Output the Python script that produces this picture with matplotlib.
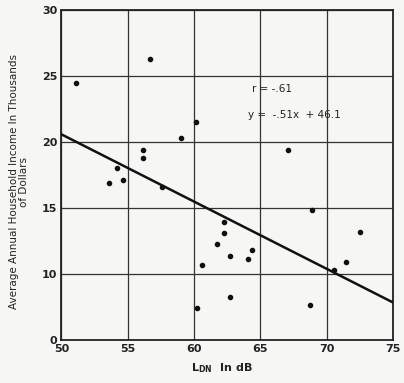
import numpy as np
from matplotlib import pyplot as plt

# noise level (LDN, dB) vs. average household income (thousands of dollars)
ldn = [51.1, 56.65, 60.17, 59.04, 56.15, 56.15, 54.2, 54.65, 53.57, 57.58,
       67.05, 60.59, 60.24, 68.89, 62.29, 62.29, 72.52, 61.74, 64.35, 62.69,
       64.1, 71.47, 70.56, 62.67, 68.76]
income = [24.5, 26.3, 21.5, 20.3, 19.4, 18.8, 18.05, 17.15, 16.9, 16.6,
          19.4, 10.7, 7.4, 14.85, 13.95, 13.1, 13.2, 12.3, 11.85, 11.4,
          11.15, 10.9, 10.3, 8.3, 7.65]

slope = -0.51
intercept = 46.1

x_ticks = [50, 55, 60, 65, 70, 75]
y_ticks = [5, 10, 15, 20, 25, 30]
y_tick_labels = ['0', '10', '15', '20', '25', '30']

if __name__ == '__main__':
    fig = plt.figure(figsize=(4.04, 3.83), dpi=100)
    fig.patch.set_facecolor('#f6f6f4')
    ax = fig.add_axes([0.152, 0.112, 0.821, 0.861])
    ax.set_facecolor('#f6f6f4')

    ax.set_xlim(50, 75)
    ax.set_ylim(5, 30)
    ax.set_xticks(x_ticks)
    ax.set_yticks(y_ticks)
    ax.set_xticklabels([str(t) for t in x_ticks], fontsize=8, fontweight='bold', color='#222222')
    ax.set_yticklabels(y_tick_labels, fontsize=8, fontweight='bold', color='#222222')
    ax.tick_params(length=0, pad=3)
    ax.grid(True, color='#333333', linewidth=0.9)
    for side in ax.spines.values():
        side.set_linewidth(1.3)
        side.set_color('#222222')

    ax.scatter(ldn, income, s=9, color='#111111', zorder=3)

    xs = np.array([50, 75])
    ax.plot(xs, slope * xs + intercept, color='#111111', linewidth=1.8, zorder=3)

    ax.text(64.4, 24.05, 'r = -.61', fontsize=7.5, color='#222222', va='center')
    ax.text(64.1, 22.1, 'y =  -.51x  + 46.1', fontsize=7.5, color='#222222', va='center')

    ax.set_ylabel('Average Annual Household Income In Thousands\nof Dollars',
                  fontsize=7.5, color='#222222', linespacing=1.0)
    ax.yaxis.set_label_coords(-0.098, 0.48)
    ax.set_xlabel('$\\mathregular{L_{DN}}$  In dB', fontsize=8, fontweight='bold',
                  color='#222222')
    ax.xaxis.set_label_coords(0.485, -0.065)

    fig.savefig('out.png', dpi=100, facecolor=fig.get_facecolor())
